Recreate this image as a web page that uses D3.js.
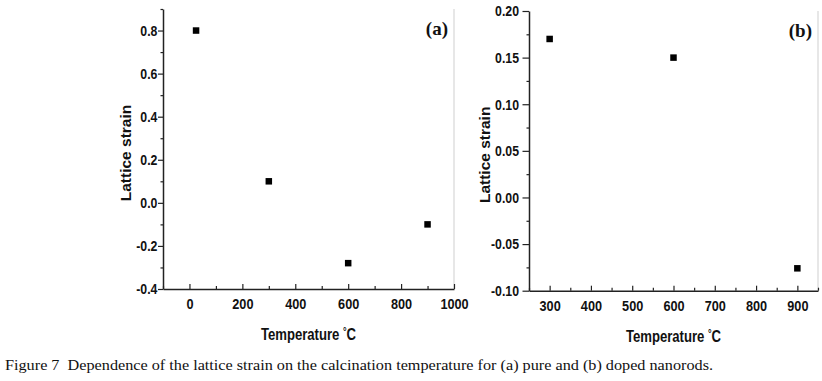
<!DOCTYPE html>
<html><head><meta charset="utf-8">
<script src="https://cdn.jsdelivr.net/npm/d3@7"></script>
<style>
html,body{margin:0;padding:0;background:#fff;}
svg{display:block;}
.tick text{font-family:"Liberation Sans",Arial,sans-serif;font-weight:bold;}
</style></head>
<body>
<svg id="chart" width="822" height="381"></svg>
<script>
// Panel (a): pure nanorods
const tempA = [25, 300, 600, 900];
const strainA = [0.80, 0.10, -0.28, -0.10];
const xTicksA = [0, 200, 400, 600, 800, 1000];
const yTicksA = [-0.4, -0.2, 0.0, 0.2, 0.4, 0.6, 0.8];
// Panel (b): doped nanorods
const tempB = [300, 600, 900];
const strainB = [0.17, 0.15, -0.076];
const xTicksB = [300, 400, 500, 600, 700, 800, 900];
const yTicksB = [-0.10, -0.05, 0.00, 0.05, 0.10, 0.15, 0.20];

const xLabel = "Temperature";
const yLabel = "Lattice strain";
const caption = "Figure 7  Dependence of the lattice strain on the calcination temperature for (a) pure and (b) doped nanorods.";

const svg = d3.select("#chart");
const NARROW = 0.82;

function panel(o) {
  const x = d3.scaleLinear().domain(o.xDom).range([o.left, o.right]);
  const y = d3.scaleLinear().domain(o.yDom).range([o.bottom, o.top]);
  const g = svg.append("g");

  // right frame line (light)
  g.append("line").attr("x1", o.right).attr("x2", o.right).attr("y1", o.top).attr("y2", o.bottom)
    .attr("stroke", "#cfcfcf").attr("stroke-width", 1);

  // minor ticks
  const xMinor = d3.range(o.xDom[0], o.xDom[1] + 1e-9, o.xMinorStep).filter(v => !o.xTicks.some(t => Math.abs(t - v) < 1e-9));
  const yMinor = d3.range(o.yDom[0], o.yDom[1] + 1e-9, o.yMinorStep).filter(v => !o.yTicks.some(t => Math.abs(t - v) < 1e-9));
  g.append("g").attr("transform", `translate(0,${o.bottom})`)
    .call(d3.axisBottom(x).tickValues(xMinor).tickSize(-3).tickFormat(""))
    .call(s => s.select(".domain").remove())
    .selectAll("line").attr("stroke", "#222").attr("stroke-width", 1.2);
  g.append("g").attr("transform", `translate(${o.left},0)`)
    .call(d3.axisLeft(y).tickValues(yMinor).tickSize(2.5).tickFormat(""))
    .call(s => s.select(".domain").remove())
    .selectAll("line").attr("stroke", "#222").attr("stroke-width", 1.2);

  const fy = d3.format(o.yFmt);
  // major axes
  const xa = g.append("g").attr("transform", `translate(0,${o.bottom})`)
    .call(d3.axisBottom(x).tickValues(o.xTicks).tickSize(-5).tickSizeOuter(0).tickPadding(9).tickFormat(d3.format("d")));
  const ya = g.append("g").attr("transform", `translate(${o.left},0)`)
    .call(d3.axisLeft(y).tickValues(o.yTicks).tickSize(o.yTickLen).tickSizeOuter(0).tickPadding(o.yPad)
      .tickFormat(d => fy(d).replace("\u2212", "-")));
  [xa, ya].forEach(a => {
    a.select(".domain").attr("stroke", "#222").attr("stroke-width", 1.5);
    a.selectAll(".tick line").attr("stroke", "#222").attr("stroke-width", 1.2);
    a.selectAll(".tick text").attr("fill", "#111").attr("font-size", 15.5).attr("transform", `scale(${NARROW},1)`);
  });
  ya.selectAll(".tick text").attr("font-size", 15);
  xa.selectAll(".tick text").attr("dy", "0.71em");

  // markers
  const sz = 6.5;
  g.selectAll("rect.pt").data(o.xs.map((v, i) => [v, o.ys[i]])).enter().append("rect")
    .attr("x", d => x(d[0]) - sz / 2).attr("y", d => y(d[1]) - sz / 2)
    .attr("width", sz).attr("height", sz).attr("fill", "#000");

  // axis titles
  const cx = (o.left + o.right) / 2;
  const t = g.append("text").attr("transform", `translate(${cx},${o.bottom + 51}) scale(${NARROW},1)`)
    .attr("text-anchor", "middle")
    .attr("font-family", "'Liberation Sans',Arial,sans-serif")
    .attr("font-weight", "bold").attr("font-size", 16).attr("fill", "#111");
  t.append("tspan").text(xLabel + " ");
  t.append("tspan").text("°").attr("font-size", 11).attr("dy", -5);
  t.append("tspan").text("C").attr("dy", 5);

  g.append("text").attr("transform", `translate(${o.yLabelX},${(o.top + o.bottom) / 2 + 4}) rotate(-90)`)
    .attr("text-anchor", "middle").attr("font-family", "'Liberation Sans',Arial,sans-serif")
    .attr("font-weight", "bold").attr("font-size", 15.5).attr("fill", "#111").text(yLabel);

  g.append("text").attr("x", o.right - 6).attr("y", o.top + 26).attr("text-anchor", "end")
    .attr("font-family", "'Liberation Serif','Times New Roman',serif").attr("font-weight", "bold")
    .attr("font-size", 19).attr("fill", "#111").text(o.tag);
}

panel({xDom: [-100, 1000], yDom: [-0.4, 0.9], left: 163, right: 454, top: 9, bottom: 289,
  xTicks: xTicksA, yTicks: yTicksA, xMinorStep: 100, yMinorStep: 0.1, yFmt: ".1f",
  yTickLen: 5, yPad: 1.8, xs: tempA, ys: strainA, yLabelX: 130.5, tag: "(a)"});
panel({xDom: [250, 950], yDom: [-0.10, 0.20], left: 529, right: 818, top: 11, bottom: 290.7,
  xTicks: xTicksB, yTicks: yTicksB, xMinorStep: 50, yMinorStep: 0.025, yFmt: ".2f",
  yTickLen: 6.5, yPad: 5.7, xs: tempB, ys: strainB, yLabelX: 490, tag: "(b)"});

svg.append("text").attr("x", 5).attr("y", 370)
  .attr("font-family", "'Liberation Serif','Times New Roman',serif").attr("font-size", 15)
  .attr("fill", "#111").attr("textLength", 708).attr("lengthAdjust", "spacingAndGlyphs")
  .attr("xml:space", "preserve").style("white-space", "pre").text(caption);
</script>
</body></html>
